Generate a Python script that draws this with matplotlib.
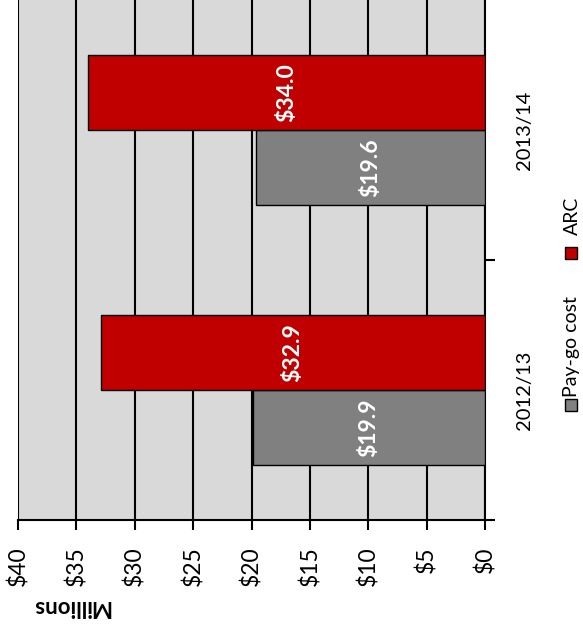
import matplotlib.pyplot as plt
from matplotlib.patches import Rectangle

# data
years = ["2012/13", "2013/14"]
paygo = [19.9, 19.6]
arc = [32.9, 34.0]
ticks = [0, 5, 10, 15, 20, 25, 30, 35, 40]

plt.rcParams['font.family'] = ['Lato', 'DejaVu Sans']

fig = plt.figure(figsize=(5.83, 6.32), dpi=100)
ax = fig.add_axes([18/583, 1 - 520/632, (485-18)/583, 520/632])
ax.set_facecolor('#D9D9D9')

pos = list(range(len(years)))
h = 0.288
ax.barh([p - h/2 for p in pos], paygo, height=h, color='#808080', edgecolor='black', lw=1, zorder=3)
ax.barh([p + h/2 for p in pos], arc, height=h, color='#C00000', edgecolor='black', lw=1, zorder=3)

# value labels (rotated like the rest of the chart)
for p, v in zip(pos, paygo):
    ax.text(v/2, p - h/2, f"${v:.1f}", rotation=90, ha='center', va='center',
            color='white', fontsize=16.5, fontweight='bold', zorder=4)
for p, v in zip(pos, arc):
    ax.text(v/2, p + h/2, f"${v:.1f}", rotation=90, ha='center', va='center',
            color='white', fontsize=16.5, fontweight='bold', zorder=4)

ax.set_xlim(40, 0)
ax.set_ylim(-0.5, 1.5)
ax.set_xticks(ticks)
ax.set_xticklabels([f"${t}" for t in ticks], rotation=90, fontsize=16.5)
ax.grid(axis='x', color='black', lw=1.5, zorder=1)
ax.tick_params(axis='x', direction='out', length=7, width=1.5, pad=12)

# category axis on the right
ax.yaxis.tick_right()
ax.set_yticks([-0.5, 0.5])
ax.set_yticklabels([])
ax.set_yticks(pos, minor=True)
ax.set_yticklabels(years, minor=True, rotation=90, va='center', fontsize=14.5)
ax.tick_params(axis='y', which='major', direction='out', length=7, width=1.5)
ax.tick_params(axis='y', which='minor', length=0, pad=22)

for s in ['top', 'left']:
    ax.spines[s].set_visible(False)
ax.spines['bottom'].set_linewidth(1.5)
ax.spines['right'].set_linewidth(1.5)

fig.text(71/583, 1 - 607/632, "Millions", rotation=180, ha='center', va='center',
         fontsize=16, fontweight='bold')

# legend drawn by hand, rotated
sq = 12
fig.patches.append(Rectangle(((571 - sq/2)/583, 1 - 411/632), sq/583, sq/632,
                             transform=fig.transFigure, facecolor='#808080', edgecolor='black', lw=1))
fig.text(572/583, 1 - 347/632, "Pay-go cost", rotation=90, ha='center', va='center', fontsize=14)
fig.patches.append(Rectangle(((571 - sq/2)/583, 1 - 259/632), sq/583, sq/632,
                             transform=fig.transFigure, facecolor='#C00000', edgecolor='black', lw=1))
fig.text(572/583, 1 - 216/632, "ARC", rotation=90, ha='center', va='center', fontsize=14)

fig.savefig("out.png", dpi=100)
